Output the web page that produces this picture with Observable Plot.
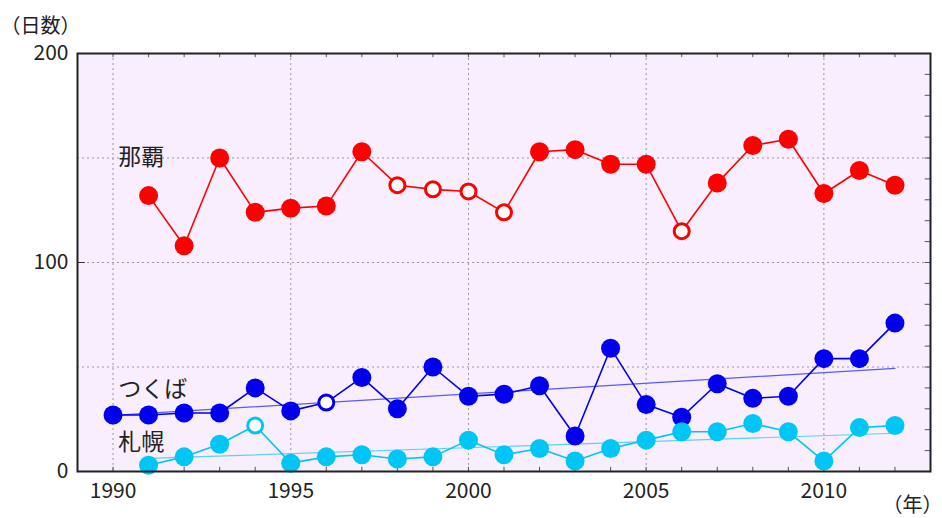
<!DOCTYPE html>
<html>
<head>
<meta charset="utf-8">
<script src="https://cdn.jsdelivr.net/npm/d3@7"></script>
<script src="https://cdn.jsdelivr.net/npm/@observablehq/plot@0.6"></script>
<style>
  html, body { margin: 0; padding: 0; background: #fff; }
  svg { display: block; }
</style>
</head>
<body>
<div id="chart"></div>
<script>
// ---- Data ----
const nahaYears = d3.range(1991, 2013);
const nahaValues = [132,108,150,124,126,127,153,137,135,134,124,153,154,147,147,115,138,156,159,133,144,137];
const nahaOpen = [1998,1999,2000,2001,2006];
const tsukubaYears = d3.range(1990, 2013);
const tsukubaValues = [27,27,28,28,40,29,33,45,30,50,36,37,41,17,59,32,26,42,35,36,54,54,71];
const tsukubaOpen = [1996];
const sapporoYears = d3.range(1991, 2013);
const sapporoValues = [3,7,13,22,4,7,8,6,7,15,8,11,5,11,15,19,19,23,19,5,21,22];
const sapporoOpen = [1994];
const xTicks = [1990, 1995, 2000, 2005, 2010];
const yTicks = [0, 100, 200];
const yGrid = [50, 100, 150];
const labels = [
  {name: "那覇", year: 1990.15, value: 150},
  {name: "つくば", year: 1990.15, value: 39},
  {name: "札幌", year: 1990.15, value: 14}
];

const mk = (ys, vs, open) => ys.map((y, i) => ({year: y, value: vs[i], open: open.includes(y)}));
const naha = mk(nahaYears, nahaValues, nahaOpen);
const tsukuba = mk(tsukubaYears, tsukubaValues, tsukubaOpen);
const sapporo = mk(sapporoYears, sapporoValues, sapporoOpen);

const RED = "#ff0000", BLUE = "#0000ee", CYAN = "#00c6f6";
const font = "'Noto Sans CJK JP', 'Noto Sans', sans-serif";
const tens = d3.range(10, 200, 10);
const allYears = d3.range(1990, 2013);

function series(data, color) {
  return [
    Plot.line(data, {x: "year", y: "value", stroke: color, strokeWidth: 1.6}),
    Plot.dot(data.filter(d => !d.open), {x: "year", y: "value", r: 9.5, fill: color, stroke: "none"}),
    Plot.dot(data.filter(d => d.open), {x: "year", y: "value", r: 7.5, fill: "#ffffff", stroke: color, strokeWidth: 3})
  ];
}

const chart = Plot.plot({
  width: 942,
  height: 518,
  marginLeft: 77,
  marginTop: 53,
  marginRight: 12,
  marginBottom: 47,
  style: {fontFamily: font, background: "#ffffff"},
  x: {domain: [1989, 2013], axis: null},
  y: {domain: [0, 200], axis: null},
  marks: [
    Plot.frame({fill: "#f8eefd", stroke: "none"}),
    Plot.gridX(xTicks, {stroke: "#999", strokeOpacity: 1, strokeDasharray: "2,3"}),
    Plot.gridY(yGrid, {stroke: "#999", strokeOpacity: 1, strokeDasharray: "2,3"}),
    // minor ticks
    Plot.ruleX(allYears, {x: d => d, y1: 0, y2: 2, stroke: "#555"}),
    Plot.ruleX(allYears, {x: d => d, y1: 200, y2: 198, stroke: "#555"}),
    Plot.ruleY(tens, {y: d => d, x1: 2013, x2: 2012.85, stroke: "#555"}),
    Plot.ruleY(yTicks, {y: d => d, x1: 1989, x2: 1989.22, stroke: "#333"}),
    // tick labels
    Plot.text(xTicks, {x: d => d, frameAnchor: "bottom", dy: 20, text: d => String(d), fontSize: 21, fill: "#222", lineAnchor: "middle"}),
    Plot.text(yTicks, {y: d => d, frameAnchor: "left", dx: -9, text: d => String(d), textAnchor: "end", fontSize: 21, fill: "#222"}),
    Plot.linearRegressionY(tsukuba, {x: "year", y: "value", stroke: "#5a5af8", strokeWidth: 1.2, ci: 0}),
    Plot.linearRegressionY(sapporo, {x: "year", y: "value", stroke: "#5ad2fa", strokeWidth: 1.2, ci: 0}),
    ...series(naha, RED),
    ...series(tsukuba, BLUE),
    ...series(sapporo, CYAN),
    Plot.text(labels, {x: "year", y: "value", text: "name", textAnchor: "start", fontSize: 23, fill: "#222"}),
    Plot.frame({stroke: "#222", strokeWidth: 2}),
    Plot.text(["（日数）"], {frameAnchor: "top-left", dx: -77, dy: -21, textAnchor: "start", lineAnchor: "bottom", fontSize: 20, fill: "#222"}),
    Plot.text(["（年）"], {frameAnchor: "bottom-right", dx: 12, dy: 34, textAnchor: "end", lineAnchor: "middle", fontSize: 20, fill: "#222"})
  ]
});
document.getElementById("chart").appendChild(chart);
</script>
</body>
</html>
